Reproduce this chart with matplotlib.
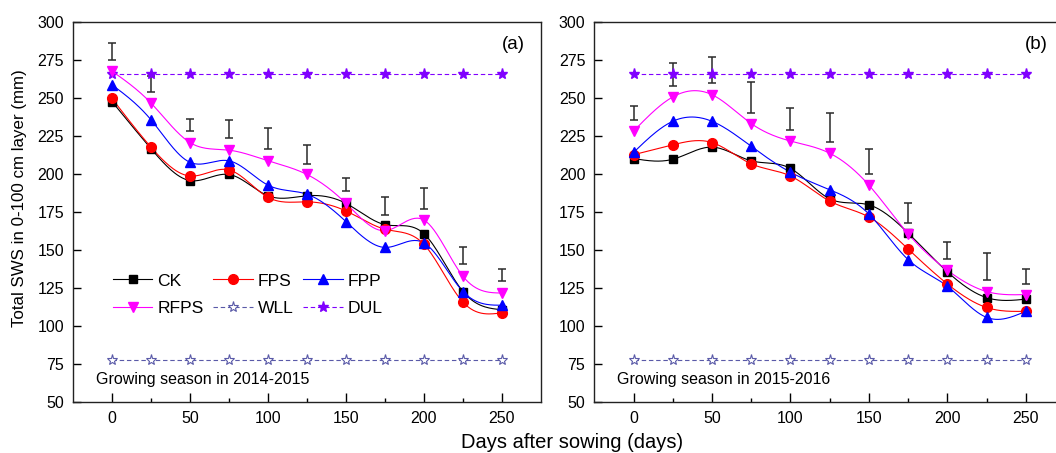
import numpy as np
import matplotlib
matplotlib.use("Agg")
import matplotlib.pyplot as plt
from matplotlib.lines import Line2D

plt.rcParams['font.family'] = ['Liberation Sans', 'DejaVu Sans']

# days after sowing
days = [0, 25, 50, 75, 100, 125, 150, 175, 200, 225, 250]

# (a) growing season 2014-2015
ck_a = [248, 217, 196, 200, 186, 186, 181, 167, 161, 123, 111]
fps_a = [250, 218, 199, 203, 185, 182, 176, 164, 154, 116, 109]
fpp_a = [259, 236, 208, 209, 193, 187, 169, 152, 155, 123, 114]
rfps_a = [268, 247, 221, 216, 209, 200, 181, 163, 170, 133, 122]
err_hi_a = [286.5, 264.5, 236.5, 236, 230.5, 219.5, 198, 185, 191, 152.5, 138]
err_lo_a = [275, 254.5, 228.5, 224, 216.5, 207, 189, 173.5, 177.5, 141, 130]

# (b) growing season 2015-2016
ck_b = [210.5, 210, 218, 209, 204, 184, 180, 161.5, 136, 119, 118]
fps_b = [213, 219.5, 221, 207, 199, 182.5, 172, 151, 128, 112.5, 110]
fpp_b = [214.5, 235, 235, 218.5, 201.5, 190, 174, 144, 126.5, 106, 110]
rfps_b = [228.5, 251, 252.5, 233.5, 222, 214, 193, 161, 137, 123, 121]
err_hi_b = [245, 273.5, 277.5, 261, 243.5, 240.5, 216.5, 181, 155.5, 148.5, 138]
err_lo_b = [236, 258, 260, 240.5, 229.5, 221.5, 200.5, 168, 144.5, 130.5, 128]

wll = 78   # wilting point line
dul = 266  # drained upper limit

# name, marker, color, size
styles = [("CK", "s", "black", 6),
          ("FPS", "o", "#ff0000", 7),
          ("FPP", "^", "#0000ff", 7.5),
          ("RFPS", "v", "#ff00ff", 7.5)]
wll_col = "#5a5aa8"
dul_col = "#8000ff"


def spline(x, y, n=300):
    # natural cubic spline, like Origin's "spline" connect
    x = np.asarray(x, float)
    y = np.asarray(y, float)
    h = np.diff(x)
    N = len(x)
    A = np.zeros((N, N))
    r = np.zeros(N)
    A[0, 0] = A[-1, -1] = 1
    for i in range(1, N - 1):
        A[i, i - 1] = h[i - 1]
        A[i, i] = 2 * (h[i - 1] + h[i])
        A[i, i + 1] = h[i]
        r[i] = 6 * ((y[i + 1] - y[i]) / h[i] - (y[i] - y[i - 1]) / h[i - 1])
    M = np.linalg.solve(A, r)
    xs = np.linspace(x[0], x[-1], n)
    k = np.clip(np.searchsorted(x, xs) - 1, 0, N - 2)
    t0 = xs - x[k]
    t1 = x[k + 1] - xs
    hk = h[k]
    ys = (M[k] * t1**3 / (6 * hk) + M[k + 1] * t0**3 / (6 * hk)
          + (y[k] / hk - M[k] * hk / 6) * t1 + (y[k + 1] / hk - M[k + 1] * hk / 6) * t0)
    return xs, ys


def draw_panel(ax, series, err_hi, err_lo, tag, season):
    d = np.array(days)
    hi = np.array(err_hi)
    lo = np.array(err_lo)
    ax.errorbar(d, (hi + lo) / 2, yerr=(hi - lo) / 2, fmt='none',
                ecolor='#2a2a2a', elinewidth=1.1, capsize=3, capthick=1.1, zorder=2)
    ax.plot(d, [wll] * len(d), ls=(0, (4, 2.5)), lw=0.8, color=wll_col,
            marker='*', ms=8, mfc='white', mec=wll_col, mew=0.8, zorder=3)
    ax.plot(d, [dul] * len(d), ls=(0, (4, 2.5)), lw=0.8, color=dul_col,
            marker='*', ms=8, mfc=dul_col, mec=dul_col, zorder=3)
    for (name, mk, col, ms), vals in zip(styles, series):
        xs, ys = spline(d, vals)
        ax.plot(xs, ys, color=col, lw=0.8, zorder=4)
        ax.plot(d, vals, ls='none', marker=mk, ms=ms, color=col, zorder=5)

    ax.set_xlim(-25, 275)
    ax.set_ylim(50, 300)
    ax.set_xticks(range(0, 251, 50))
    ax.set_xticks(range(0, 251, 25), minor=True)
    ax.set_yticks(range(50, 301, 25))
    ax.tick_params(axis='x', which='major', direction='in', length=6.5, width=1,
                   labelsize=11.5, pad=6)
    ax.tick_params(axis='x', which='minor', direction='in', length=3, width=1)
    ax.tick_params(axis='y', which='major', direction='in', length=6, width=1,
                   labelsize=11.5, pad=6.5)
    for sp in ax.spines.values():
        sp.set_linewidth(1.0)
        sp.set_color('#222222')
    ax.text(257, 285.5, tag, fontsize=13.5, ha='center', va='center')
    ax.text(-10.5, 65, season, fontsize=11.5, ha='left', va='center')


fig = plt.figure(figsize=(10.56, 4.53), dpi=100)
ax1 = fig.add_axes([0.0691, 0.1115, 0.4432, 0.8389])
ax2 = fig.add_axes([0.5628, 0.1115, 0.4457, 0.8389])

draw_panel(ax1, [ck_a, fps_a, fpp_a, rfps_a], err_hi_a, err_lo_a,
           "(a)", "Growing season in 2014-2015")
draw_panel(ax2, [ck_b, fps_b, fpp_b, rfps_b], err_hi_b, err_lo_b,
           "(b)", "Growing season in 2015-2016")

h = {}
for name, mk, col, ms in styles:
    h[name] = Line2D([], [], color=col, lw=0.8, marker=mk, ms=ms)
h["WLL"] = Line2D([], [], color=wll_col, lw=0.8, ls=(0, (4, 2.5)), marker='*',
                  ms=8, mfc='white', mec=wll_col, mew=0.8)
h["DUL"] = Line2D([], [], color=dul_col, lw=0.8, ls=(0, (4, 2.5)), marker='*',
                  ms=8, mfc=dul_col, mec=dul_col)
order = ["CK", "RFPS", "FPS", "WLL", "FPP", "DUL"]
ax1.legend([h[k] for k in order], order, ncol=3, loc='upper left',
           bbox_to_anchor=(0.0855, 0.34), frameon=False, fontsize=12.6,
           borderpad=0, borderaxespad=0, handlelength=2.25, handletextpad=0.3,
           columnspacing=0.55, labelspacing=0.7)

fig.text(0.018, 0.562, "Total SWS in 0-100 cm layer (mm)", rotation=90,
         fontsize=12.2, ha='center', va='center')
fig.text(0.542, 0.024, "Days after sowing (days)", fontsize=14.5,
         ha='center', va='center')

fig.savefig("out.png", dpi=100)
